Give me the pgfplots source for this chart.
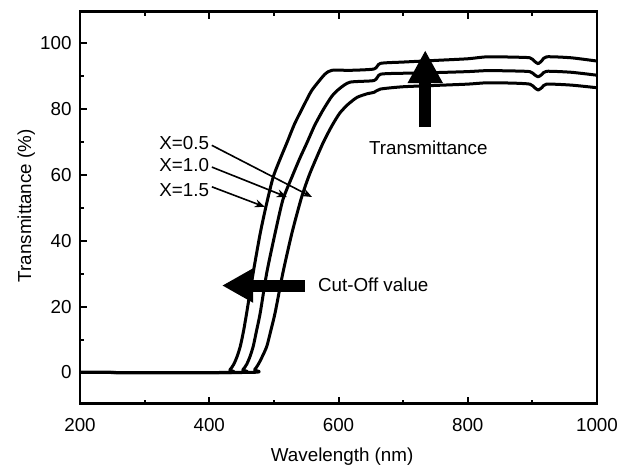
\documentclass[border=0pt]{standalone}
\usepackage{fontspec}
\setmainfont{Liberation Sans}
\usepackage{pgfplots}
\pgfplotsset{compat=1.18}
\usetikzlibrary{arrows.meta}
\pgfplotstableread{
wl T
200 0
425 0
432 0.8
438 2.5
443 4.8
448 7.9
453 12.5
458 18.2
468 30.3
479 42.4
489 51.5
499 59.4
510 65
520 69.7
532 75.5
545 80.6
558 85.5
571 88.8
580 90.8
590 91.8
620 91.8
655 92.2
665 93.9
700 94.3
750 94.8
800 95.3
830 95.9
870 95.8
896 95.6
903 94.6
909 93.8
915 94.8
922 95.9
960 95.6
1000 94.6
}\curveA
\pgfplotstableread{
wl T
200 0
445 0
452 0.8
458 2.5
463 4.8
468 7.9
473 12.5
479 18.2
489 30.3
502 42.4
514 52.5
528 59.4
540 65
551 69.7
563 75
576 79.7
590 84
602 86.3
618 88.2
655 88.7
665 90.6
700 90.9
750 91.1
800 91.4
830 91.7
870 91.6
896 91.4
903 90.5
909 89.8
915 90.6
922 91.5
960 91.2
1000 90.3
}\curveB
\pgfplotstableread{
wl T
200 0
462 0
470 0.8
476 2.5
482 4.8
489 7.9
495 12.5
502 18.2
514 30.3
528 42.4
543 53.3
556 60.6
576 69.7
590 75
602 78.8
615 81.5
629 83.6
645 84.7
655 85.1
665 86.1
700 86.8
750 87.2
800 87.6
830 88
870 87.9
896 87.6
903 86.6
909 85.8
915 86.6
922 87.6
960 87.3
1000 86.5
}\curveC
\begin{document}
\fontsize{18.8}{22.6}\selectfont
\begin{tikzpicture}
\begin{axis}[
  scale only axis, width=517pt, height=392pt,
  xmin=200, xmax=1000, ymin=-9.5, ymax=109.6,
  xtick={200,400,600,800,1000},
  ytick={0,20,40,60,80,100},
  minor x tick num=1, minor y tick num=1,
  xtick pos=both, ytick pos=left,
  tick align=inside,
  major tick length=7pt, minor tick length=4pt,
  every tick/.style={line width=2pt, black},
  axis line style={line width=2.6pt},
  /pgf/number format/assume math mode=true,
  /pgf/number format/1000 sep={},
  xticklabel style={yshift=-8pt},
  yticklabel style={xshift=-2pt},
  xlabel={Wavelength (nm)}, ylabel={Transmittance (\%)},
  xlabel style={at={(axis description cs:0.507,-0.135)}, anchor=center},
  ylabel style={at={(axis description cs:-0.104,0.505)}, anchor=center},
]
\addplot[black, line width=3pt, line join=round, smooth, tension=0.4] table[x=wl,y=T] {\curveA};
\addplot[black, line width=3pt, line join=round, smooth, tension=0.4] table[x=wl,y=T] {\curveB};
\addplot[black, line width=3pt, line join=round, smooth, tension=0.4] table[x=wl,y=T] {\curveC};
% annotations
\node[anchor=east, inner sep=0pt] at (axis cs:400,69.7) {X=0.5};
\node[anchor=east, inner sep=0pt] at (axis cs:400,63) {X=1.0};
\node[anchor=east, inner sep=0pt] at (axis cs:400,55.5) {X=1.5};
\draw[line width=1.6pt, -{Stealth[length=10pt,width=8pt]}] (axis cs:404,69) -- (axis cs:559,53.3);
\draw[line width=1.6pt, -{Stealth[length=10pt,width=8pt]}] (axis cs:404,62.4) -- (axis cs:520,53.3);
\draw[line width=1.6pt, -{Stealth[length=10pt,width=8pt]}] (axis cs:404,56.4) -- (axis cs:486,50.3);
\draw[line width=12pt, -{Triangle[length=31pt,width=32pt]}] (axis cs:548,26.4) -- (axis cs:419.8,26.4);
\node[anchor=west, inner sep=0pt] at (axis cs:568,26.6) {Cut-Off value};
\draw[line width=12pt, -{Triangle[length=33pt,width=33pt]}] (axis cs:734.2,74.5) -- (axis cs:734.2,97.9);
\node[anchor=center, inner sep=0pt] at (axis cs:739,68.2) {Transmittance};
\end{axis}
\pgfresetboundingbox
\path[use as bounding box] ([xshift=-80pt,yshift=-66pt]current axis.south west) rectangle ([xshift=31pt,yshift=11.7pt]current axis.north east);
\end{tikzpicture}
\end{document}
